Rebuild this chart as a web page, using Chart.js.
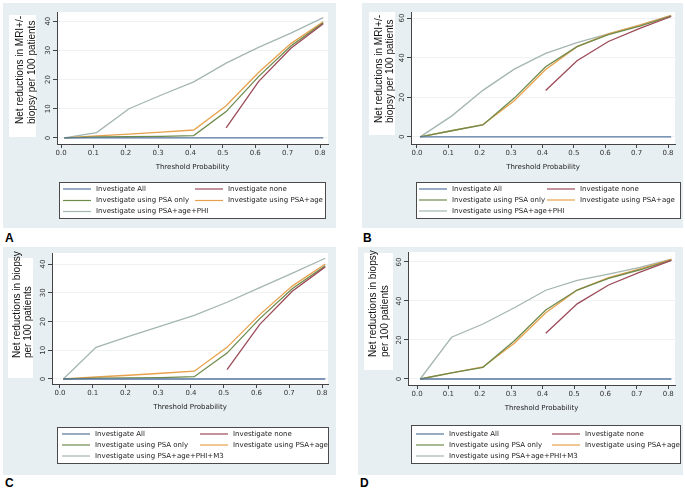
<!DOCTYPE html>
<html>
<head>
<meta charset="utf-8">
<script src="https://cdn.jsdelivr.net/npm/chart.js@4.4.1/dist/chart.umd.min.js"></script>
<style>
  body { margin: 0; width: 685px; height: 489px; background: #fff; position: relative; overflow: hidden; }
  .panel { position: absolute; background: #e8eff2; }
  .panel canvas { display: block; }
  .tag { position: absolute; font: bold 12px "Liberation Sans", Arial, sans-serif; color: #000; }
</style>
</head>
<body>
<div class="panel" style="left:3px;top:3px;width:333px;height:225px"><canvas id="chartA" width="333" height="225"></canvas></div>
<div class="panel" style="left:362px;top:3px;width:321px;height:225px"><canvas id="chartB" width="321" height="225"></canvas></div>
<div class="panel" style="left:3px;top:247px;width:333px;height:228px"><canvas id="chartC" width="333" height="228"></canvas></div>
<div class="panel" style="left:358px;top:247px;width:325px;height:228px"><canvas id="chartD" width="325" height="228"></canvas></div>
<div class="tag" style="left:5px;top:231px">A</div>
<div class="tag" style="left:363px;top:231px">B</div>
<div class="tag" style="left:5px;top:476px">C</div>
<div class="tag" style="left:360px;top:476px">D</div>
<script>
// threshold probabilities (x) and tick labels
const thresholds = [0.01, 0.11, 0.21, 0.31, 0.41, 0.51, 0.61, 0.71, 0.81];
const xTicks = [0, 0.1, 0.2, 0.3, 0.4, 0.5, 0.6, 0.7, 0.8];
const xTickLabels = ['0.0', '0.1', '0.2', '0.3', '0.4', '0.5', '0.6', '0.7', '0.8'];
const yTicks40 = [0, 10, 20, 30, 40];
const yTicks60 = [0, 20, 40, 60];

const seriesNames = ['Investigate All', 'Investigate none', 'Investigate using PSA only', 'Investigate using PSA+age'];
const lastNameAB = 'Investigate using PSA+age+PHI';
const lastNameCD = 'Investigate using PSA+age+PHI+M3';
const colors = ['#56769f', '#9c4a58', '#6e8b4c', '#e7a14c', '#a4b6b1'];

// A: MRI+/- biopsy, low prevalence
const aAll = [0, 0, 0, 0, 0, 0, 0, 0, 0];
const aNone = [null, null, null, null, null, 3.4, 19.3, 30.7, 39.1];
const aPsa = [0, 0.3, 0.4, 0.5, 0.8, 9, 21, 31.5, 39.4];
const aPsaAge = [0, 0.7, 1.3, 2, 2.7, 11, 22.4, 32.3, 39.8];
const aPhi = [0, 1.8, 10, 14.7, 19.2, 25.6, 31, 35.9, 41.2];

// B: MRI+/- biopsy, high prevalence
const bAll = [0, 0, 0, 0, 0, 0, 0, 0, 0];
const bNone = [null, null, null, null, 23.4, 38.5, 48.2, 54.8, 60.8];
const bPsa = [0, 3.1, 6, 19.6, 35.4, 45.6, 51.6, 56, 61];
const bPsaAge = [0, 3.1, 6.2, 18.3, 34, 45.6, 52, 56.5, 61.3];
const bPhi = [0, 10.5, 23.5, 34.2, 42.2, 47.6, 52, 56.5, 61.4];

// C: biopsy, low prevalence
const cAll = [0, 0, 0, 0, 0, 0, 0, 0, 0];
const cNone = [null, null, null, null, null, 3.3, 19, 30.6, 39];
const cPsa = [0, 0.3, 0.4, 0.5, 0.8, 9, 21, 31.5, 39.4];
const cPsaAge = [0, 0.7, 1.3, 2, 2.7, 11, 22.4, 32.4, 40];
const cM3 = [0, 11, 14.8, 18.5, 22.1, 26.7, 31.8, 36.8, 42];

// D: biopsy, high prevalence
const dAll = [0, 0, 0, 0, 0, 0, 0, 0, 0];
const dNone = [null, null, null, null, 23.4, 38.5, 48.2, 54.8, 60.8];
const dPsa = [0, 3.1, 6, 19.6, 35.4, 45.6, 51.6, 56, 61];
const dPsaAge = [0, 3.1, 6.2, 18.3, 34, 45.6, 52, 56.5, 61.3];
const dM3 = [0, 21.4, 28.2, 36.5, 45.5, 50.6, 53.8, 57.2, 61.5];

Chart.defaults.font.family = '"DejaVu Sans", Verdana, sans-serif';
Chart.defaults.font.size = 7;

// panel background, white plot region, boxed y title, Stata-style legend
const stataPlugin = {
  id: 'stata',
  beforeDraw(chart, args, opts) {
    const { ctx, chartArea: a } = chart;
    ctx.save();
    ctx.fillStyle = '#fff';
    ctx.fillRect(a.left, a.top, a.right - a.left, a.bottom - a.top);
    const b = opts.titleBox;
    ctx.fillRect(b[0], b[1], b[2], b[3]);
    ctx.fillStyle = '#111';
    ctx.font = '10px "Liberation Sans", Arial, sans-serif';
    ctx.textBaseline = 'middle';
    ctx.textAlign = 'left';
    opts.titleLines.forEach((t, i) => {
      ctx.save();
      ctx.translate(opts.titleX[i], opts.titleStart);
      ctx.rotate(-Math.PI / 2);
      ctx.fillText(t, 0, 0);
      ctx.restore();
    });
    ctx.restore();
  },
  afterDraw(chart, args, opts) {
    const { ctx } = chart;
    const L = opts.legend;
    ctx.save();
    ctx.fillStyle = '#fff';
    ctx.fillRect(L.x, L.y, L.w, L.h);
    ctx.strokeStyle = '#4a4a4a';
    ctx.lineWidth = 1;
    ctx.strokeRect(L.x + 0.5, L.y + 0.5, L.w, L.h);
    ctx.font = '7px "DejaVu Sans", Verdana, sans-serif';
    ctx.textBaseline = 'middle';
    ctx.textAlign = 'left';
    chart.data.datasets.forEach((ds, i) => {
      const x0 = L.x + L.cols[i % 2];
      const y0 = L.y + L.rows[Math.floor(i / 2)];
      ctx.strokeStyle = ds.borderColor;
      ctx.lineWidth = 1.2;
      ctx.beginPath();
      ctx.moveTo(x0, y0);
      ctx.lineTo(x0 + 28, y0);
      ctx.stroke();
      ctx.fillStyle = '#222';
      ctx.fillText(ds.label, x0 + 33, y0);
    });
    ctx.restore();
  }
};

function makeChart(id, series, names, yTicks, cfg) {
  const datasets = series.map((vals, i) => ({
    label: names[i],
    data: thresholds.map((x, j) => ({ x: x, y: vals[j] })),
    borderColor: colors[i],
    borderWidth: 1.3,
    pointRadius: 0,
    tension: 0,
    fill: false,
    spanGaps: false
  }));
  return new Chart(document.getElementById(id), {
    type: 'line',
    data: { datasets: datasets },
    plugins: [stataPlugin],
    options: {
      responsive: false,
      animation: false,
      events: [],
      layout: { padding: { left: 0, top: cfg.pad[0], right: cfg.pad[1], bottom: cfg.pad[2] } },
      plugins: {
        legend: { display: false },
        tooltip: { enabled: false },
        stata: cfg.deco
      },
      scales: {
        x: {
          type: 'linear',
          min: cfg.x[0],
          max: cfg.x[1],
          afterBuildTicks: s => { s.ticks = xTicks.map(v => ({ value: v })); },
          afterFit: s => { s.height = 28; },
          grid: { drawOnChartArea: false, tickLength: 4, tickColor: '#444' },
          border: { color: '#444', width: 1 },
          ticks: { color: '#333', padding: 1, maxRotation: 0, autoSkip: false,
                   callback: (v, i) => xTickLabels[i] },
          title: { display: true, text: 'Threshold Probability', color: '#222', padding: { top: 0, bottom: 1 } }
        },
        y: {
          type: 'linear',
          min: cfg.y[0],
          max: cfg.y[1],
          afterBuildTicks: s => { s.ticks = yTicks.map(v => ({ value: v })); },
          afterFit: s => { s.width = cfg.yWidth; },
          grid: { color: '#eef2f4', tickLength: 4, tickColor: '#444' },
          border: { color: '#444', width: 1 },
          ticks: { color: '#333', padding: 0, minRotation: 90, maxRotation: 90, crossAlign: 'center', autoSkip: false }
        }
      }
    }
  });
}

const titleMri = ['Net reductions in MRI+/-', 'biopsy per 100 patients'];
const titleBiopsy = ['Net reductions in biopsy', 'per 100 patients'];

makeChart('chartA', [aAll, aNone, aPsa, aPsaAge, aPhi], seriesNames.concat([lastNameAB]), yTicks40, {
  pad: [9, 8, 56], yWidth: 54, x: [-0.0124, 0.8247], y: [-2.09, 43.13],
  deco: { titleBox: [6, 12, 27, 122], titleLines: titleMri, titleX: [17.5, 29], titleStart: 121,
          legend: { x: 56, y: 179, w: 266, h: 36, cols: [4, 136], rows: [7, 18.5, 29.5] } }
});
makeChart('chartB', [bAll, bNone, bPsa, bPsaAge, bPhi], seriesNames.concat([lastNameAB]), yTicks60, {
  pad: [9, 8, 56], yWidth: 49, x: [-0.0191, 0.8223], y: [-3.59, 63.08],
  deco: { titleBox: [7, 9, 26, 123], titleLines: titleMri, titleX: [17, 28], titleStart: 120,
          legend: { x: 54, y: 179, w: 264, h: 36, cols: [3, 131], rows: [7, 18, 29] } }
});
makeChart('chartC', [cAll, cNone, cPsa, cPsaAge, cM3], seriesNames.concat([lastNameCD]), yTicks40, {
  pad: [6, 8, 63], yWidth: 49, x: [-0.0244, 0.8183], y: [-1.74, 43.83],
  deco: { titleBox: [5, 11, 25, 120], titleLines: titleBiopsy, titleX: [14, 25.5], titleStart: 111,
          legend: { x: 54, y: 180, w: 271, h: 36, cols: [5, 143], rows: [7, 18, 29] } }
});
makeChart('chartD', [dAll, dNone, dPsa, dPsaAge, dM3], seriesNames.concat([lastNameCD]), yTicks60, {
  pad: [5, 8, 62], yWidth: 50, x: [-0.0287, 0.8215], y: [-3.08, 65.1],
  deco: { titleBox: [6, 6, 29, 117], titleLines: titleBiopsy, titleX: [15.5, 27], titleStart: 110,
          legend: { x: 53, y: 178, w: 269, h: 38, cols: [5, 141], rows: [9, 20, 31] } }
});
</script>
</body>
</html>
